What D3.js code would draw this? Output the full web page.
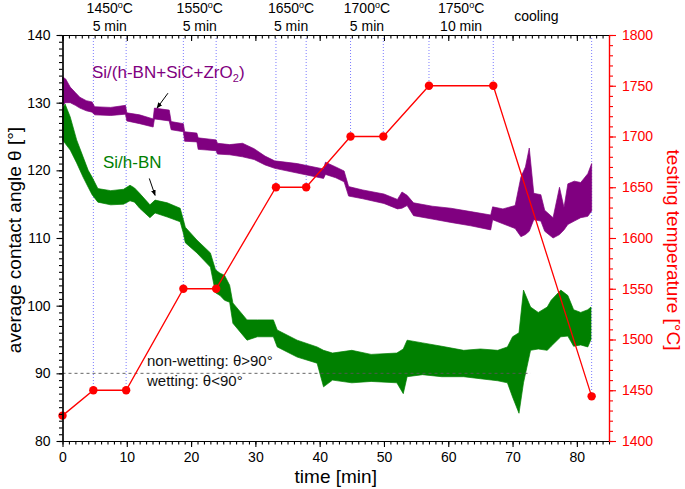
<!DOCTYPE html>
<html><head><meta charset="utf-8">
<script src="https://cdn.jsdelivr.net/npm/d3@7"></script>
<style>
body{margin:0;background:#fff;}
svg text{font-family:Arial,"Liberation Sans",Helvetica,sans-serif;}
</style></head>
<body><svg id="c" width="685" height="489"></svg>
<script>
// ---- data ----
const purpleT  = [0,0.5,1.2,2.0,2.7,3.7,4.6,5.0,7.5,9.8,10.0,12.0,14.1,14.3,16.6,16.9,18.8,19.0,20.9,21.1,23.9,24.1,26,28,29.8,31.5,33,36.5,40.6,40.9,42.5,43.8,44.5,46.7,50,52.1,52.8,53.6,54.6,57.5,60.4,63.5,66.6,66.9,68.5,70.4,71.3,72.0,72.6,73.3,74.4,75.0,76.3,77.3,78.0,78.6,79.6,80.6,81.7,82.3];
const purpleLo = [129.6,130.0,130.0,129.6,129.2,128.8,128.6,128.2,128.1,128.3,127.3,126.9,126.4,127.6,127.3,126.0,125.7,124.3,124.2,123.1,122.9,122.4,122.3,122.0,121.6,120.8,120.3,119.6,118.8,119.4,118.9,118.3,116.2,115.8,115.1,114.3,114.4,114.8,113.3,112.8,112.3,111.8,111.2,112.7,112.1,111.4,110.2,110.5,111.0,112.7,112.5,111.0,110.0,110.5,111.2,112.0,112.5,113.0,113.2,114.0];
const purpleHi = [133.8,133.5,132.3,131.5,130.8,130.3,130.1,129.4,129.3,129.6,128.5,128.2,127.6,129.2,128.9,127.2,126.9,125.7,125.5,124.8,124.5,124.0,123.8,124.0,123.2,122.1,121.4,121.0,120.2,121.2,120.5,119.9,117.6,117.1,116.5,115.7,116.8,116.3,115.2,114.7,114.4,113.9,113.4,114.6,114.3,114.8,119.0,120.5,123.3,116.6,116.4,114.1,113.0,117.5,114.5,118.0,118.4,118.2,119.5,121.0];

const greenT  = [0,0.4,1.2,2.2,3.2,4.0,4.6,5.5,7.5,9.5,10.5,11.2,12.0,13.6,14.4,16.3,18.3,18.8,19.1,20.9,23.0,23.8,24.5,25.2,26.0,26.5,28.7,30.3,32.8,33.4,36.5,39.6,40.6,42,45,48,52,53,53.6,56,59,62.4,65,67.7,69.2,70.0,71.0,71.7,72.8,74.0,75.4,76.0,77.5,78.6,79.5,80.6,81.7,82.2];
const greenLo = [124.5,124.0,123.0,121.1,119.0,117.5,116.4,115.3,114.9,115.0,115.5,115.3,114.4,113.0,113.7,113.1,112.4,110.7,109.3,107.8,105.7,101.9,101.5,100.8,100.5,97.4,94.9,95.4,95.4,93.9,92.4,91.5,88.0,89.0,88.6,88.8,88.6,87.0,89.5,89.8,89.5,89.5,89.2,88.9,88.6,86.5,84.1,88.6,93.4,93.6,93.4,94.0,95.4,95.5,94.0,94.2,93.9,95.0];
const greenHi = [129.0,129.8,127.9,124.5,122.0,120.0,119.0,117.3,117.0,117.2,117.8,117.4,116.6,114.9,115.6,115.2,114.4,112.7,111.6,109.7,107.8,105.3,104.8,104.5,103.0,100.4,97.9,97.9,97.9,96.4,94.9,93.9,93.4,93.0,93.4,92.8,93.0,93.6,94.9,94.5,94.0,93.4,93.6,93.4,93.9,95.4,96.0,102.3,99.8,99.0,99.8,100.8,102.3,101.5,99.4,99.0,99.4,99.8];

const tempT = [0,4.8,9.9,18.8,23.9,33.2,37.9,44.8,49.9,57.0,67.0,82.3];
const tempV = [1425,1450,1450,1550,1550,1650,1650,1700,1700,1750,1750,1444];

const stageTemp = ["1450","1550","1650","1700","1750"];
const stageDur  = ["5 min","5 min","5 min","5 min","10 min"];
const coolingLabel = "cooling";

const xTicks = [0,10,20,30,40,50,60,70,80];
const yLTicks = [80,90,100,110,120,130,140];
const yRTicks = [1400,1450,1500,1550,1600,1650,1700,1750,1800];

const seriesNames = ["Si/(h-BN+SiC+ZrO", "Si/h-BN"];

// ---- scales ----
const svg = d3.select("#c");
const x = d3.scaleLinear().domain([0,85]).range([62.5,609]);
const yL = d3.scaleLinear().domain([80,140]).range([441,35]);
const yR = d3.scaleLinear().domain([1400,1800]).range([441,35]);
const PURPLE="#800080", GREEN="#008000", RED="#ff0000";

// dotted vertical lines from top to each temperature point
svg.append("g").selectAll("line").data(tempT.slice(1)).join("line")
  .attr("x1",d=>x(d)).attr("x2",d=>x(d))
  .attr("y1",yR(1800)).attr("y2",(d,i)=>yR(tempV[i+1]))
  .attr("stroke","#5b5bff").attr("stroke-width",0.8).attr("stroke-dasharray","1,2");

// bands
function band(T,lo,hi,color){
  const data = T.map((t,i)=>({t,lo:lo[i],hi:hi[i]}));
  svg.append("path").datum(data)
    .attr("d",d3.area().x(d=>x(d.t)).y0(d=>yL(d.lo)).y1(d=>yL(d.hi)))
    .attr("fill",color).attr("stroke",color).attr("stroke-width",0.7).attr("stroke-linejoin","bevel");
}
band(purpleT,purpleLo,purpleHi,PURPLE);
band(greenT,greenLo,greenHi,GREEN);

// 90 degree dashed line
svg.append("line").attr("x1",x(0)).attr("x2",x(72.8)).attr("y1",yL(90)).attr("y2",yL(90))
  .attr("stroke","#555").attr("stroke-width",0.9).attr("stroke-dasharray","3,3");

// temperature line
svg.append("path").datum(tempT.map((t,i)=>[t,tempV[i]]))
  .attr("d",d3.line().x(d=>x(d[0])).y(d=>yR(d[1])))
  .attr("fill","none").attr("stroke",RED).attr("stroke-width",1.3);
svg.append("g").selectAll("circle").data(tempT).join("circle")
  .attr("cx",d=>x(d)).attr("cy",(d,i)=>yR(tempV[i])).attr("r",4.2).attr("fill",RED);

// ---- axes ----
function styleAxis(g,color){
  g.select(".domain").attr("stroke",color).attr("stroke-width",1.2);
  g.selectAll(".tick line").attr("stroke",color).attr("stroke-width",1.1);
  g.selectAll(".tick text").attr("fill",color).style("font-size","14px")
   .style("font-family","Arial,'Liberation Sans',sans-serif");
}
const fmt = d3.format("d");
// bottom
svg.append("g").attr("transform","translate(0,441)")
  .call(d3.axisBottom(x).tickValues(d3.range(0,86,1)).tickSize(3.5).tickFormat("").tickSizeOuter(0))
  .call(g=>styleAxis(g,"#000"));
svg.append("g").attr("transform","translate(0,441)")
  .call(d3.axisBottom(x).tickValues(xTicks).tickSize(6).tickPadding(5).tickFormat(fmt).tickSizeOuter(0))
  .call(g=>styleAxis(g,"#000"));
// top
svg.append("g").attr("transform","translate(0,35)")
  .call(d3.axisBottom(x).tickValues(d3.range(0,86,1)).tickSize(3.5).tickFormat("").tickSizeOuter(0))
  .call(g=>styleAxis(g,"#000"));
svg.append("g").attr("transform","translate(0,35)")
  .call(d3.axisBottom(x).tickValues(xTicks).tickSize(6).tickFormat("").tickSizeOuter(0))
  .call(g=>styleAxis(g,"#000"));
// left
svg.append("g").attr("transform","translate(62.5,0)")
  .call(d3.axisLeft(yL).tickValues(d3.range(80,141,1)).tickSize(3.5).tickFormat("").tickSizeOuter(0))
  .call(g=>styleAxis(g,"#000"));
svg.append("g").attr("transform","translate(62.5,0)")
  .call(d3.axisLeft(yL).tickValues(yLTicks).tickSize(6).tickPadding(6).tickFormat(fmt).tickSizeOuter(0))
  .call(g=>styleAxis(g,"#000"));
// right
svg.append("g").attr("transform","translate(609,0)")
  .call(d3.axisRight(yR).tickValues(d3.range(1400,1801,10)).tickSize(4).tickFormat("").tickSizeOuter(0))
  .call(g=>styleAxis(g,RED));
svg.append("g").attr("transform","translate(609,0)")
  .call(d3.axisRight(yR).tickValues(yRTicks).tickSize(7).tickPadding(6).tickFormat(fmt).tickSizeOuter(0))
  .call(g=>styleAxis(g,RED));

// axis titles
svg.append("text").attr("x",x(42.5)).attr("y",483).attr("text-anchor","middle")
  .style("font-size","19px").text("time [min]");
svg.append("text").attr("transform","translate(21,240) rotate(-90)").attr("text-anchor","middle")
  .style("font-size","19px").text("average contact angle θ [°]");
svg.append("text").attr("transform","translate(667,250) rotate(90)").attr("text-anchor","middle")
  .attr("fill",RED).style("font-size","19px").text("testing temperature [°C]");

// stage labels
stageTemp.forEach((s,i)=>{
  const cx = x((tempT[2*i+1]+tempT[2*i+2])/2);
  const t = svg.append("text").attr("x",cx).attr("y",13).attr("text-anchor","middle").style("font-size","14px");
  t.append("tspan").text(s);
  t.append("tspan").attr("dy",-5).style("font-size","9px").text("o");
  t.append("tspan").attr("dy",5).text("C");
  svg.append("text").attr("x",cx).attr("y",31).attr("text-anchor","middle").style("font-size","14px").text(stageDur[i]);
});
svg.append("text").attr("x",x((tempT[10]+tempT[11])/2)-6).attr("y",21).attr("text-anchor","middle")
  .style("font-size","14px").text(coolingLabel);

// series labels
const pl = svg.append("text").attr("x",92).attr("y",78).attr("fill",PURPLE).style("font-size","17px");
pl.append("tspan").text(seriesNames[0]);
pl.append("tspan").attr("dy",4).style("font-size","11px").text("2");
pl.append("tspan").attr("dy",-4).text(")");
svg.append("text").attr("x",103).attr("y",168).attr("fill",GREEN).style("font-size","17px").text(seriesNames[1]);

// arrows
svg.append("defs").append("marker").attr("id","ah").attr("viewBox","0 0 10 10")
  .attr("refX",9).attr("refY",5).attr("markerWidth",6).attr("markerHeight",6).attr("orient","auto")
  .append("path").attr("d","M0,1 L10,5 L0,9 Z").attr("fill","#000");
const arrows = [[16.4,131.4,14.7,129.2],[13.5,118.8,14.4,116.3]];
arrows.forEach(a=>{
  svg.append("line").attr("x1",x(a[0])).attr("y1",yL(a[1])).attr("x2",x(a[2])).attr("y2",yL(a[3]))
    .attr("stroke","#000").attr("stroke-width",1).attr("marker-end","url(#ah)");
});

// wetting labels
svg.append("text").attr("x",147).attr("y",366).style("font-size","15px").attr("fill","#111").text("non-wetting: θ>90°");
svg.append("text").attr("x",147).attr("y",386).style("font-size","15px").attr("fill","#111").text("wetting: θ<90°");
</script></body></html>
